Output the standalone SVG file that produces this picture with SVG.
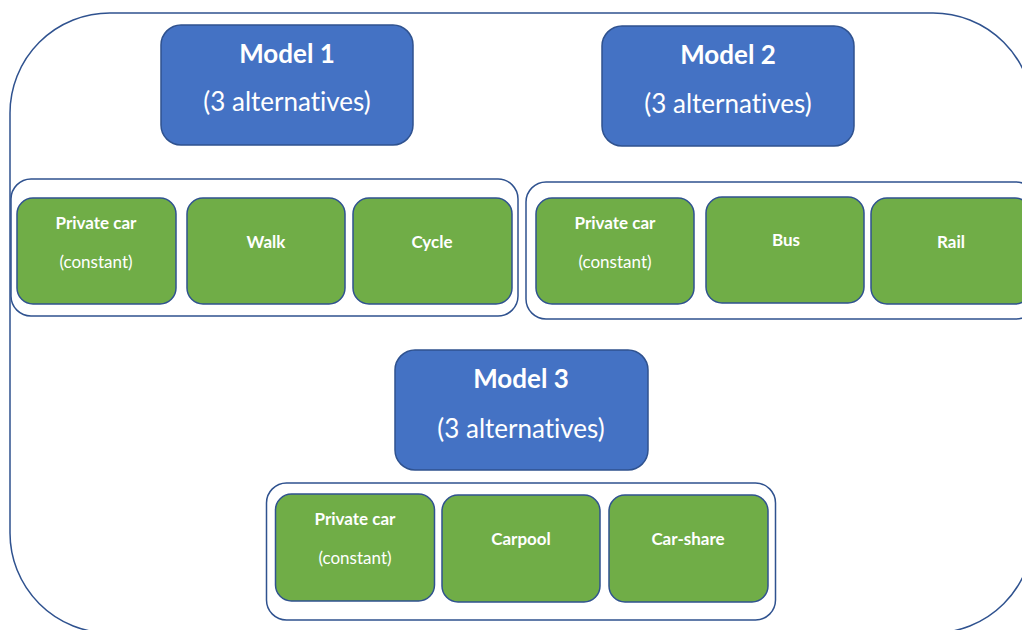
<svg xmlns="http://www.w3.org/2000/svg" width="1022" height="630" viewBox="0 0 1022 630">
<style>
.frame{fill:none;stroke:#2F528F;stroke-width:1.5}
.model{fill:#4472C4;stroke:#2F528F;stroke-width:1.5}
.alt{fill:#70AD47;stroke:#2F528F;stroke-width:1.5}
.t{fill:#fff;font-family:Lato,"Liberation Sans",sans-serif;text-anchor:middle;font-variant-ligatures:none;font-feature-settings:"liga" 0}
.mt{font-size:26px;font-weight:bold}
.ms{font-size:26px}
.at{font-size:17px;font-weight:bold}
.as{font-size:17px}
</style>
<rect class="frame" x="10" y="13" width="1023" height="620" rx="100" ry="100"/>
<g id="connectors"></g>
<g id="model1">
<rect class="model" x="161" y="25" width="252" height="120" rx="20"/>
<text class="t mt" x="287" y="63">Model 1</text>
<text class="t ms" x="287" y="111">(3 alternatives)</text>
</g>
<g id="model2">
<rect class="model" x="602" y="26" width="252" height="120" rx="20"/>
<text class="t mt" x="728" y="64">Model 2</text>
<text class="t ms" x="728" y="113">(3 alternatives)</text>
</g>
<g id="model3">
<rect class="model" x="395" y="350" width="253" height="120" rx="20"/>
<text class="t mt" x="521" y="388">Model 3</text>
<text class="t ms" x="521" y="438">(3 alternatives)</text>
</g>
<g id="group1">
<rect class="frame" x="11" y="179" width="507" height="137" rx="20"/>
</g>
<g id="group2">
<rect class="frame" x="526" y="182" width="510" height="137" rx="20"/>
</g>
<g id="group3">
<rect class="frame" x="266.5" y="483" width="509" height="137" rx="20"/>
</g>
<g id="m1-private">
<rect class="alt" x="17" y="198" width="159" height="106" rx="16"/>
<text class="t at" x="96" y="229">Private car</text>
<text class="t as" x="96" y="268">(constant)</text>
</g>
<g id="m1-walk">
<rect class="alt" x="187" y="198" width="158" height="106" rx="16"/>
<text class="t at" x="266" y="248">Walk</text>
</g>
<g id="m1-cycle">
<rect class="alt" x="353" y="198" width="159" height="106" rx="16"/>
<text class="t at" x="432" y="248">Cycle</text>
</g>
<g id="m2-private">
<rect class="alt" x="536" y="198" width="158" height="106" rx="16"/>
<text class="t at" x="615" y="229">Private car</text>
<text class="t as" x="615" y="268">(constant)</text>
</g>
<g id="m2-bus">
<rect class="alt" x="706" y="197" width="158" height="106" rx="16"/>
<text class="t at" x="786" y="246">Bus</text>
</g>
<g id="m2-rail">
<rect class="alt" x="871" y="198" width="160" height="106" rx="16"/>
<text class="t at" x="951" y="248">Rail</text>
</g>
<g id="m3-private">
<rect class="alt" x="275.5" y="494" width="159" height="107" rx="16"/>
<text class="t at" x="355" y="525">Private car</text>
<text class="t as" x="355" y="564">(constant)</text>
</g>
<g id="m3-carpool">
<rect class="alt" x="442" y="495" width="158" height="107" rx="16"/>
<text class="t at" x="521" y="545">Carpool</text>
</g>
<g id="m3-carshare">
<rect class="alt" x="609" y="495" width="159" height="107" rx="16"/>
<text class="t at" x="688" y="545">Car-share</text>
</g>
</svg>
